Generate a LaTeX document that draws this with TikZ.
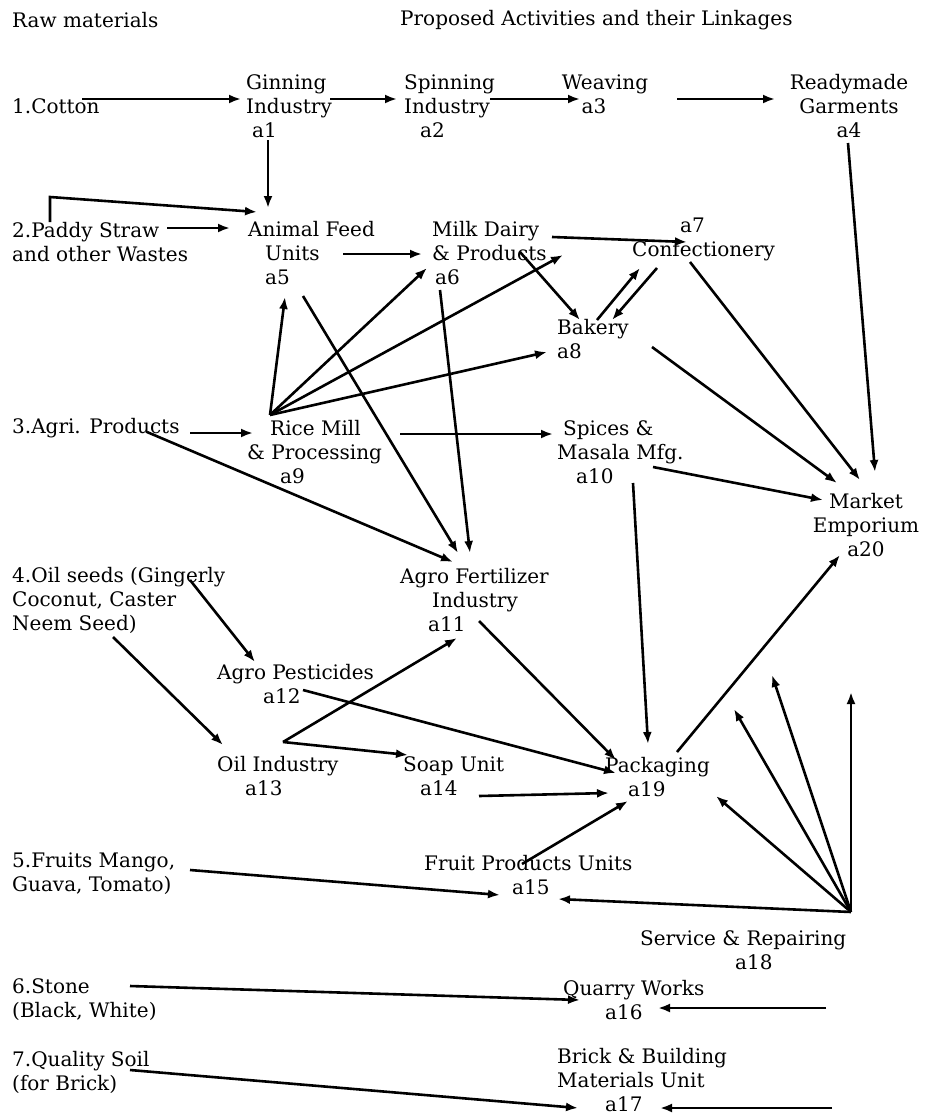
\documentclass[tikz,border=0pt]{standalone}
\usepackage{fontspec}
\setmainfont{DejaVu Serif}
\usetikzlibrary{arrows.meta, positioning}

\begin{document}
\begin{tikzpicture}[x=1pt, y=-1pt, font=\fontsize{20}{24}\selectfont,
    lbl/.style={inner sep=0pt, align=left, anchor=west},
    lblc/.style={inner sep=0pt, align=center},
    arrow/.style={-{Latex[length=12pt, width=9pt]}, line width=2.6pt}
]
    \useasboundingbox (0,0) rectangle (929,1119);

    % headings
    \node[lbl] (raw) at (12,20) {Raw materials};
    \node[lbl] (prop) at (400,20) {Proposed Activities and their Linkages};

    % raw materials
    \node[lbl] (cotton) at (12,106) {1.Cotton};
    \node[lbl] (paddy) at (12,242) {2.Paddy Straw\\and other Wastes};
    \node[lbl] (agri) at (12,428) {3.Agri. Products};
    \node[lbl] (oilseed) at (12,600) {4.Oil seeds (Gingerly\\Coconut, Caster\\Neem Seed)};
    \node[lbl] (fruits) at (12,874) {5.Fruits Mango,\\Guava, Tomato)};
    \node[lbl] (stone) at (12,1000) {6.Stone\\(Black, White)};
    \node[lbl] (soil) at (12,1072) {7.Quality Soil\\(for Brick)};

    % activities
    \node[lbl] (a1) at (246,106) {Ginning\\Industry\\\hspace*{6pt}a1};
    \node[lbl] (a2) at (404,106) {Spinning\\Industry\\\hspace*{16pt}a2};
    \node[lblc] (a3) at (605,94) {Weaving\\a3\hspace*{22pt}};
    \node[lblc] (a4) at (849,106) {Readymade\\Garments\\a4};
    \node[lbl] (a5) at (248,253) {Animal Feed\\\hspace*{17pt}Units\\\hspace*{17pt}a5};
    \node[lbl] (a6) at (432,253) {Milk Dairy\\\& Products\\\hspace*{3pt}a6};
    \node[lbl] (a7) at (632,239) {\hspace*{48pt}a7\\Confectionery};
    \node[lbl] (a8) at (557,339) {Bakery\\a8};
    \node[lbl] (a9) at (247,452) {\hspace*{23pt}Rice Mill\\\& Processing\\\hspace*{33pt}a9};
    \node[lbl] (a10) at (557,452) {\hspace*{6pt}Spices \&\\Masala Mfg.\\\hspace*{19pt}a10};
    \node[lbl] (a11) at (400,600) {Agro Fertilizer\\\hspace*{32pt}Industry\\\hspace*{28pt}a11};
    \node[lbl] (a12) at (217,684) {Agro Pesticides\\\hspace*{46pt}a12};
    \node[lbl] (a13) at (217,776) {Oil Industry\\\hspace*{28pt}a13};
    \node[lbl] (a14) at (403,776) {Soap Unit\\\hspace*{17pt}a14};
    \node[lbl] (a15) at (424,875) {Fruit Products Units\\\hspace*{88pt}a15};
    \node[lbl] (a16) at (563,1000) {Quarry Works\\\hspace*{42pt}a16};
    \node[lbl] (a17) at (557,1080) {Brick \& Building\\Materials Unit\\\hspace*{48pt}a17};
    \node[lbl] (a18) at (640,950) {Service \& Repairing\\\hspace*{95pt}a18};
    \node[lbl] (a19) at (605,777) {Packaging\\\hspace*{23pt}a19};
    \node[lblc] (a20) at (866,525) {Market\\Emporium\\a20};

    % free ends
    \coordinate (s1) at (734,709);
    \coordinate (s2) at (772,675);
    \coordinate (s3) at (851,692);
    \coordinate (q16) at (826,1008);
    \coordinate (q17) at (832,1108);

    % cotton chain
    \draw[arrow] ([shift={(70,-7)}]cotton.west) -- ([shift={(-5,-7)}]a1.west);
    \draw[arrow] ([shift={(84,-7)}]a1.west) -- ([shift={(-7,-7)}]a2.west);
    \draw[arrow] ([shift={(86,-7)}]a2.west) -- ([shift={(-25,5)}]a3.center);
    \draw[arrow] ([shift={(72,5)}]a3.center) -- ([shift={(-74,-7)}]a4.center);
    \draw[arrow] ([shift={(22,34)}]a1.west) -- ([shift={(20,-45)}]a5.west);
    \draw[arrow] ([shift={(-1,37)}]a4.center) -- ([shift={(9,-53)}]a20.center);

    % paddy straw
    \draw[arrow] ([shift={(38,-20)}]paddy.west) -- ++(0,-25) -- ([shift={(9,-41)}]a5.west);
    \draw[arrow] ([shift={(155,-14)}]paddy.west) -- ([shift={(-18,-25)}]a5.west);
    \draw[arrow] ([shift={(95,1)}]a5.west) -- ([shift={(-10,1)}]a6.west);
    \draw[arrow] ([shift={(55,43)}]a5.west) -- ([shift={(58,-47)}]a11.west);

    % dairy, bakery, confectionery
    \draw[arrow] ([shift={(8,37)}]a6.west) -- ([shift={(70,-47)}]a11.west);
    \draw[arrow] ([shift={(120,-16)}]a6.west) -- ([shift={(55,3)}]a7.west);
    \draw[arrow] ([shift={(88,-1)}]a6.west) -- ([shift={(23,-19)}]a8.west);
    \draw[arrow] ([shift={(40,-19)}]a8.west) -- ([shift={(8,29)}]a7.west);
    \draw[arrow] ([shift={(25,29)}]a7.west) -- ([shift={(55,-19)}]a8.west);
    \draw[arrow] ([shift={(58,23)}]a7.west) -- ([shift={(-6,-45)}]a20.center);
    \draw[arrow] ([shift={(95,8)}]a8.west) -- ([shift={(-29,-42)}]a20.center);

    % agri products and rice mill
    \draw[arrow] ([shift={(178,5)}]agri.west) -- ([shift={(6,-19)}]a9.west);
    \draw[arrow] ([shift={(135,4)}]agri.west) -- ([shift={(53,-38)}]a11.west);
    \foreach \tgt/\dx/\dy in {a5/37/44, a6/-5/15, a7/-69/16, a8/-10/13}
        \draw[arrow] ([shift={(23,-37)}]a9.west) -- ([shift={(\dx,\dy)}]\tgt.west);
    \draw[arrow] ([shift={(153,-18)}]a9.west) -- ([shift={(-4,-18)}]a10.west);
    \draw[arrow] ([shift={(96,15)}]a10.west) -- ([shift={(-43,-25)}]a20.center);
    \draw[arrow] ([shift={(76,31)}]a10.west) -- ([shift={(43,-33)}]a19.west);

    % oil seeds
    \draw[arrow] ([shift={(178,-20)}]oilseed.west) -- ([shift={(38,-22)}]a12.west);
    \draw[arrow] ([shift={(101,37)}]oilseed.west) -- ([shift={(6,-31)}]a13.west);
    \draw[arrow] ([shift={(66,-34)}]a13.west) -- ([shift={(57,38)}]a11.west);
    \draw[arrow] ([shift={(66,-34)}]a13.west) -- ([shift={(5,-21)}]a14.west);

    % packaging
    \draw[arrow] ([shift={(86,6)}]a12.west) -- ([shift={(11,-4)}]a19.west);
    \draw[arrow] ([shift={(79,21)}]a11.west) -- ([shift={(11,-17)}]a19.west);
    \draw[arrow] ([shift={(76,20)}]a14.west) -- ([shift={(4,16)}]a19.west);
    \draw[arrow] ([shift={(98,-11)}]a15.west) -- ([shift={(23,24)}]a19.west);
    \draw[arrow] ([shift={(72,-25)}]a19.west) -- ([shift={(-26,30)}]a20.center);

    % service and repairing
    \draw[arrow] ([shift={(211,-38)}]a18.west) -- ([shift={(111,19)}]a19.west);
    \foreach \tgt in {s1, s2, s3}
        \draw[arrow] ([shift={(211,-38)}]a18.west) -- (\tgt);
    \draw[arrow] ([shift={(211,-38)}]a18.west) -- ([shift={(134,24)}]a15.west);

    % fruits, stone, soil
    \draw[arrow] ([shift={(178,-4)}]fruits.west) -- ([shift={(76,20)}]a15.west);
    \draw[arrow] ([shift={(118,-14)}]stone.west) -- ([shift={(17,0)}]a16.west);
    \draw[arrow] (q16) -- ([shift={(95,8)}]a16.west);
    \draw[arrow] ([shift={(118,-2)}]soil.west) -- ([shift={(21,28)}]a17.west);
    \draw[arrow] (q17) -- ([shift={(103,28)}]a17.west);
\end{tikzpicture}
\end{document}
